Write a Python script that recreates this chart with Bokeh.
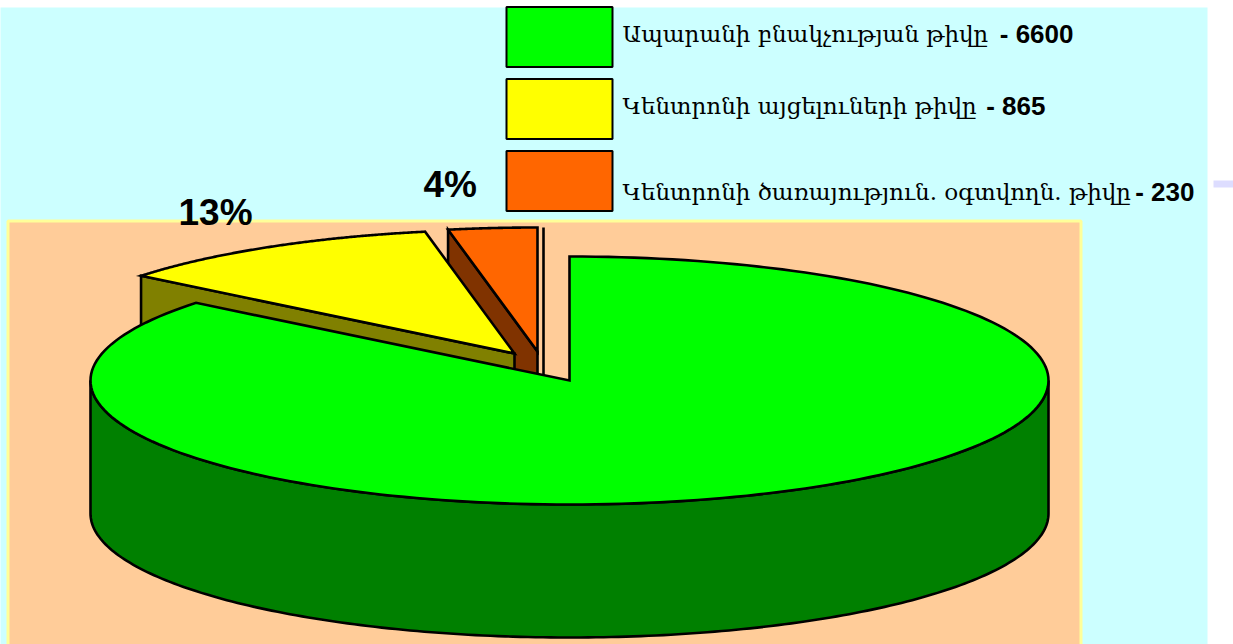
import numpy as np
from bokeh.plotting import figure
from bokeh.models import Range1d
from bokeh.core.properties import value
from bokeh.embed import file_html
from bokeh.resources import INLINE

legend_names = ["Ապարանի բնակչության թիվը",
                "Կենտրոնի այցելուների թիվը",
                "Կենտրոնի ծառայություն. օգտվողն. թիվը"]
values = [6600, 865, 230]
pct_labels = ["13%", "4%"]
top_colors = ["#00FF00", "#FFFF00", "#FF6600"]
side_colors = ["#008000", "#808000", "#803300"]

W, H = 1233, 644
RX, RY, DEPTH = 479, 124, 133
CX, CY = 569, 380
APEX_YELLOW = (514, 353)
APEX_ORANGE = (537, 351)

p = figure(width=W, height=H, output_backend="svg", toolbar_location=None,
           x_range=Range1d(0, W), y_range=Range1d(H, 0), min_border=0,
           background_fill_color="white", border_fill_color="white")
p.axis.visible = False
p.grid.visible = False
p.outline_line_color = None

# panels
p.quad(left=[-3], right=[1207], top=[7], bottom=[H], fill_color="#CCFFFF", line_color=None)
p.quad(left=[1213], right=[1233], top=[180], bottom=[187], fill_color="#DDDDFF", line_color=None)
p.quad(left=[7.5], right=[1080.5], top=[220.5], bottom=[H + 5], fill_color="#FFCC99",
       line_color="#FFFF99", line_width=3)

fractions = np.array(values) / sum(values)
bounds = np.concatenate([[0], np.cumsum(fractions)]) * 2 * np.pi


def arc(cx, cy, a0, a1, n=200):
    t = np.linspace(a0, a1, n)
    return cx + RX * np.sin(t), cy - RY * np.cos(t)


def slice_top(cx, cy, a0, a1):
    x, y = arc(cx, cy, a0, a1)
    return np.r_[cx, x], np.r_[cy, y]


def draw(x, y, fill):
    p.patch(x, y, fill_color=fill, line_color="black", line_width=2.6, line_join="miter")


# orange slice
ax, ay = APEX_ORANGE
ex, ey = arc(ax, ay, bounds[2], bounds[2], 1)
draw([ex[0], ax, ax, ex[0]], [ey[0], ay, ay + DEPTH, ey[0] + DEPTH], side_colors[2])
draw(*slice_top(ax, ay, bounds[2], bounds[3]), top_colors[2])
p.line([543, 543], [227, 380], line_color="black", line_width=2.6)

# yellow slice
ax, ay = APEX_YELLOW
ex, ey = arc(ax, ay, bounds[1], bounds[1], 1)
draw([ex[0], ax, ax, ex[0]], [ey[0], ay, ay + DEPTH, ey[0] + DEPTH], side_colors[1])
draw(*slice_top(ax, ay, bounds[1], bounds[2]), top_colors[1])

# green slice
x, y = arc(CX, CY, np.pi / 2, 3 * np.pi / 2)
draw(np.r_[x, x[::-1]], np.r_[y, y[::-1] + DEPTH], side_colors[0])
draw(*slice_top(CX, CY, bounds[0], bounds[1]), top_colors[0])

# legend
sw_top = [6.5, 78.5, 150.5]
p.quad(left=[506] * 3, right=[612] * 3, top=sw_top, bottom=[t + 60 for t in sw_top],
       fill_color=top_colors, line_color="black", line_width=2)
p.text(x=[622] * 3, y=[33, 105, 191], text=legend_names,
       text_font=value("DejaVu Serif"), text_font_size="23px",
       text_baseline="middle", text_align="left", text_color="black")
p.text(x=[1073, 1045, 1194], y=[33, 105, 191], text=[f"- {v}" for v in values],
       text_font=value("Liberation Sans"), text_font_size="26px", text_font_style="bold",
       text_baseline="middle", text_align="right", text_color="black")

# percentages
p.text(x=[178, 423], y=[212, 184], text=pct_labels, text_font=value("Liberation Sans"),
       text_font_size="37px", text_font_style="bold", text_baseline="middle", text_color="black")

open("out.html", "w").write(file_html(p, INLINE))
